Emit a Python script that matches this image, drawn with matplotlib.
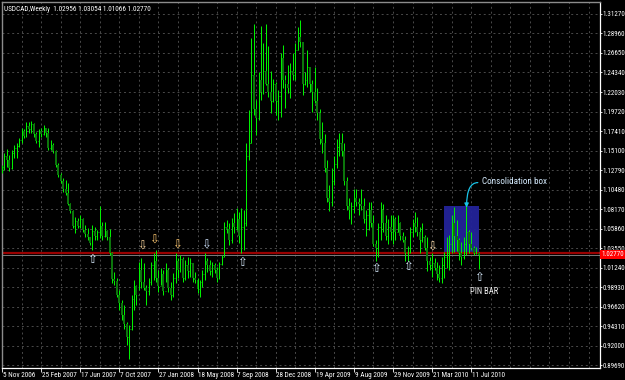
import os
import matplotlib
matplotlib.use("Agg")
import matplotlib.pyplot as plt
from matplotlib import font_manager
from matplotlib.font_manager import FontProperties
from matplotlib.patches import Rectangle
import matplotlib.transforms as mtransforms

# ---------------- data ----------------
symbol = "USDCAD,Weekly"
header_ohlc = "1.02956 1.03054 1.01066 1.02770"

opens = [1.1260, 1.1320, 1.1450, 1.1400, 1.1300, 1.1480, 1.1540, 1.1560, 1.1630, 1.1740,
         1.1680, 1.1800, 1.1760, 1.1820, 1.1700, 1.1620, 1.1740, 1.1700, 1.1780, 1.1720,
         1.1540, 1.1580, 1.1500, 1.1340, 1.1220, 1.1150, 1.1060, 1.1010, 1.0880, 1.0790,
         1.0620, 1.0680, 1.0620, 1.0700, 1.0570, 1.0520, 1.0480, 1.0420, 1.0560, 1.0500,
         1.0540, 1.0620, 1.0500, 1.0560, 1.0480, 1.0300, 0.9990, 0.9960, 0.9800, 0.9700,
         0.9560, 0.9450, 0.9300, 0.9400, 0.9750, 0.9900, 0.9800, 1.0100, 0.9950, 0.9880,
         0.9850, 0.9950, 1.0150, 1.0200, 1.0000, 0.9900, 1.0050, 0.9850, 1.0100, 0.9880,
         0.9800, 1.0000, 1.0200, 1.0100, 1.0220, 1.0000, 1.0150, 1.0080, 1.0180, 1.0000,
         0.9980, 0.9870, 0.9950, 1.0050, 1.0200, 1.0150, 1.0080, 1.0150, 1.0100, 1.0000,
         1.0160, 1.0250, 1.0600, 1.0580, 1.0450, 1.0650, 1.0600, 1.0700, 1.0500, 1.0600,
         1.0650, 1.1450, 1.1600, 1.2400, 1.2000, 1.1900, 1.2350, 1.2200, 1.2450, 1.2300,
         1.2200, 1.2100, 1.2300, 1.2100, 1.2150, 1.2600, 1.2350, 1.2300, 1.2250, 1.2450,
         1.2400, 1.2700, 1.2850, 1.2800, 1.2300, 1.2350, 1.2500, 1.2300, 1.2200, 1.2100,
         1.1950, 1.1650, 1.1600, 1.1300, 1.0950, 1.0900, 1.1150, 1.1350, 1.1550, 1.1600,
         1.1500, 1.1150, 1.0850, 1.0800, 1.0850, 1.0950, 1.0900, 1.0880, 1.0850, 1.0700,
         1.0750, 1.0800, 1.0650, 1.0400, 1.0350, 1.0600, 1.0800, 1.0650, 1.0500, 1.0600,
         1.0550, 1.0700, 1.0550, 1.0650, 1.0500, 1.0450, 1.0300, 1.0350, 1.0550, 1.0650,
         1.0600, 1.0550, 1.0450, 1.0480, 1.0350, 1.0200, 1.0150, 1.0180, 1.0120, 1.0050,
         1.0000, 1.0150, 1.0250, 1.0300, 1.0400, 1.0650, 1.0500, 1.0450, 1.0300, 1.0250,
         1.0400, 1.0550, 1.0400, 1.0350, 1.0300, 1.02956]

highs = [1.1338, 1.1480, 1.1528, 1.1457, 1.1516, 1.1575, 1.1599, 1.1658, 1.1777, 1.1760,
         1.1848, 1.1848, 1.1860, 1.1830, 1.1729, 1.1765, 1.1777, 1.1812, 1.1777, 1.1777,
         1.1635, 1.1599, 1.1516, 1.1362, 1.1243, 1.1184, 1.1161, 1.1125, 1.0888, 1.0805,
         1.0723, 1.0711, 1.0746, 1.0710, 1.0628, 1.0592, 1.0486, 1.0628, 1.0604, 1.0568,
         1.0853, 1.0663, 1.0663, 1.0570, 1.0580, 1.0310, 1.0071, 1.0000, 0.9858, 0.9739,
         0.9680, 0.9480, 0.9443, 0.9798, 0.9976, 0.9917, 1.0189, 1.0237, 1.0178, 0.9917,
         1.0000, 1.0189, 1.0296, 1.0331, 1.0095, 1.0118, 1.0095, 1.0178, 1.0118, 0.9953,
         1.0059, 1.0296, 1.0237, 1.0272, 1.0249, 1.0213, 1.0249, 1.0237, 1.0178, 1.0071,
         1.0000, 0.9976, 1.0095, 1.0296, 1.0237, 1.0213, 1.0189, 1.0178, 1.0130, 1.0189,
         1.0272, 1.0663, 1.0687, 1.0651, 1.0711, 1.0770, 1.0829, 1.0782, 1.0829, 1.0805,
         1.1600, 1.1990, 1.2843, 1.3009, 1.2108, 1.2440, 1.2985, 1.2784, 1.3009, 1.2748,
         1.2452, 1.2357, 1.2320, 1.2227, 1.2665, 1.2760, 1.2405, 1.2523, 1.2547, 1.2665,
         1.2784, 1.2973, 1.3056, 1.2784, 1.2440, 1.2701, 1.2488, 1.2345, 1.2499, 1.2251,
         1.2000, 1.1850, 1.1700, 1.1400, 1.1100, 1.1300, 1.1450, 1.1650, 1.1720, 1.1720,
         1.1600, 1.1200, 1.0950, 1.0900, 1.1050, 1.1050, 1.0950, 1.1050, 1.0950, 1.0800,
         1.0900, 1.0900, 1.0750, 1.0450, 1.0650, 1.0900, 1.0880, 1.0750, 1.0700, 1.0750,
         1.0750, 1.0720, 1.0750, 1.0660, 1.0550, 1.0500, 1.0380, 1.0600, 1.0700, 1.0780,
         1.0720, 1.0600, 1.0652, 1.0509, 1.0480, 1.0249, 1.0296, 1.0237, 1.0189, 1.0154,
         1.0249, 1.0308, 1.0486, 1.0509, 1.0746, 1.0841, 1.0687, 1.0474, 1.0427, 1.0486,
         1.0865, 1.0568, 1.0545, 1.0380, 1.0367, 1.03054]

lows = [1.1243, 1.1279, 1.1315, 1.1267, 1.1290, 1.1421, 1.1421, 1.1552, 1.1599, 1.1658,
        1.1670, 1.1718, 1.1718, 1.1670, 1.1599, 1.1552, 1.1670, 1.1694, 1.1670, 1.1516,
        1.1516, 1.1480, 1.1315, 1.1196, 1.1125, 1.1019, 1.0983, 1.0865, 1.0770, 1.0592,
        1.0533, 1.0592, 1.0592, 1.0545, 1.0486, 1.0450, 1.0391, 1.0331, 1.0450, 1.0450,
        1.0474, 1.0450, 1.0486, 1.0450, 1.0272, 0.9941, 0.9917, 0.9775, 0.9621, 0.9500,
        0.9400, 0.9206, 0.9040, 0.9384, 0.9621, 0.9680, 0.9858, 0.9882, 0.9858, 0.9680,
        0.9798, 0.9917, 0.9976, 0.9953, 0.9834, 0.9917, 0.9798, 0.9953, 0.9834, 0.9739,
        0.9775, 0.9941, 1.0000, 1.0071, 0.9953, 0.9976, 1.0000, 1.0012, 0.9953, 0.9941,
        0.9822, 0.9775, 0.9893, 0.9976, 1.0071, 1.0035, 1.0012, 1.0059, 0.9953, 0.9990,
        1.0150, 1.0249, 1.0533, 1.0391, 1.0415, 1.0533, 1.0568, 1.0415, 1.0296, 1.0331,
        1.0620, 1.1398, 1.1600, 1.1931, 1.1694, 1.1871, 1.2108, 1.2180, 1.2286, 1.2144,
        1.1954, 1.2090, 1.1931, 1.1871, 1.1907, 1.2251, 1.2014, 1.2191, 1.2132, 1.2345,
        1.2345, 1.2701, 1.2736, 1.2168, 1.2286, 1.2263, 1.2203, 1.1966, 1.2073, 1.1871,
        1.1585, 1.1480, 1.1250, 1.0900, 1.0790, 1.0850, 1.1100, 1.1300, 1.1450, 1.1450,
        1.1100, 1.0800, 1.0700, 1.0640, 1.0770, 1.0850, 1.0750, 1.0800, 1.0650, 1.0500,
        1.0570, 1.0600, 1.0380, 1.0205, 1.0250, 1.0450, 1.0550, 1.0450, 1.0400, 1.0450,
        1.0400, 1.0450, 1.0550, 1.0450, 1.0430, 1.0205, 1.0200, 1.0300, 1.0480, 1.0550,
        1.0500, 1.0300, 1.0427, 1.0331, 1.0080, 1.0095, 1.0012, 1.0095, 0.9976, 0.9953,
        0.9941, 1.0000, 1.0118, 1.0095, 1.0296, 1.0308, 1.0320, 1.0213, 1.0154, 1.0230,
        1.0272, 1.0296, 1.0331, 1.0272, 1.0280, 1.01066]

closes = [1.1320, 1.1450, 1.1400, 1.1300, 1.1480, 1.1540, 1.1560, 1.1630, 1.1740, 1.1680,
          1.1800, 1.1760, 1.1820, 1.1700, 1.1620, 1.1740, 1.1700, 1.1780, 1.1720, 1.1540,
          1.1580, 1.1500, 1.1340, 1.1220, 1.1150, 1.1060, 1.1010, 1.0880, 1.0790, 1.0620,
          1.0680, 1.0620, 1.0700, 1.0570, 1.0520, 1.0480, 1.0420, 1.0560, 1.0500, 1.0540,
          1.0620, 1.0500, 1.0560, 1.0480, 1.0300, 0.9990, 0.9960, 0.9800, 0.9700, 0.9560,
          0.9450, 0.9300, 0.9400, 0.9750, 0.9900, 0.9800, 1.0100, 0.9950, 0.9880, 0.9850,
          0.9950, 1.0150, 1.0200, 1.0000, 0.9900, 1.0050, 0.9850, 1.0100, 0.9880, 0.9800,
          1.0000, 1.0200, 1.0100, 1.0220, 1.0000, 1.0150, 1.0080, 1.0180, 1.0000, 0.9980,
          0.9870, 0.9950, 1.0050, 1.0200, 1.0150, 1.0080, 1.0150, 1.0100, 1.0000, 1.0160,
          1.0250, 1.0600, 1.0580, 1.0450, 1.0650, 1.0600, 1.0700, 1.0500, 1.0600, 1.0650,
          1.1450, 1.1600, 1.2400, 1.2000, 1.1900, 1.2350, 1.2200, 1.2450, 1.2300, 1.2200,
          1.2100, 1.2300, 1.2100, 1.2150, 1.2600, 1.2350, 1.2300, 1.2250, 1.2450, 1.2400,
          1.2700, 1.2850, 1.2800, 1.2300, 1.2350, 1.2500, 1.2300, 1.2200, 1.2100, 1.1950,
          1.1650, 1.1600, 1.1300, 1.0950, 1.0900, 1.1150, 1.1350, 1.1550, 1.1600, 1.1500,
          1.1150, 1.0850, 1.0800, 1.0850, 1.0950, 1.0900, 1.0880, 1.0850, 1.0700, 1.0750,
          1.0800, 1.0650, 1.0400, 1.0350, 1.0600, 1.0800, 1.0650, 1.0500, 1.0600, 1.0550,
          1.0700, 1.0550, 1.0650, 1.0500, 1.0450, 1.0300, 1.0350, 1.0550, 1.0650, 1.0600,
          1.0550, 1.0450, 1.0480, 1.0350, 1.0200, 1.0150, 1.0180, 1.0120, 1.0050, 1.0000,
          1.0150, 1.0250, 1.0300, 1.0400, 1.0650, 1.0500, 1.0450, 1.0300, 1.0250, 1.0400,
          1.0550, 1.0400, 1.0350, 1.0300, 1.02956, 1.02770]

# weeks since 5 Nov 2006 for each date label
date_label_weeks = [0, 16, 32, 48, 64, 80, 96, 112, 128, 144, 160, 176, 192]
date_labels = ["5 Nov 2006", "25 Feb 2007", "17 Jun 2007", "7 Oct 2007", "27 Jan 2008",
               "18 May 2008", "7 Sep 2008", "28 Dec 2008", "19 Apr 2009", "9 Aug 2009",
               "29 Nov 2009", "21 Mar 2010", "11 Jul 2010"]
price_ticks = [1.31270, 1.28960, 1.26650, 1.24340, 1.22030, 1.19720, 1.17410, 1.15100,
               1.12790, 1.10480, 1.08170, 1.05860, 1.03550, 1.01240, 0.98930, 0.96620,
               0.94310, 0.92000, 0.89690]
price_tick_labels = ["1.31270", "1.28960", "1.26650", "1.24340", "1.22030", "1.19720",
                     "1.17410", "1.15100", "1.12790", "1.10480", "1.08170", "1.05860",
                     "1.03550", "1.01240", "0.98930", "0.96620", "0.94310", "0.92000",
                     "0.89690"]
support_level = 1.0300
bid_price = 1.02770
bid_label = "1.02770"

up_arrow_weeks = [37, 98, 153, 166, 195.2]
up_arrow_prices = [1.0220, 1.0185, 1.0112, 1.0136, 1.0008]
down_arrow_weeks = [57.4, 62.3, 71.7, 83.6, 176]
down_arrow_prices = [1.0375, 1.0446, 1.0387, 1.0387, 1.0363]
down_arrow_colors = ["#ffd9a0", "#ffc870", "#ffc870", "#d0e4ff", "#ffe0b0"]

box_weeks = [180.9, 195.3]
box_prices = [1.0296, 1.0853]
box_label = "Consolidation box"
pin_label = "PIN BAR"

# ---------------- fonts ----------------
def pick_small_font():
    cands = []
    for f in font_manager.fontManager.ttflist:
        base = os.path.basename(f.fname)
        low = base.lower()
        if any(k in low for k in ("bold", "italic", "oblique", "light", "thin", "medium", "black")):
            continue
        if f.name == "Liberation Sans Narrow":
            cands.append((0, f.fname, 5.0))
        elif f.name == "Roboto Condensed" or ("roboto" in low and "condensed" in low):
            cands.append((1, f.fname, 5.0))
        elif f.name == "DejaVu Sans" and "condensed" in low:
            cands.append((2, f.fname, 4.7))
    if cands:
        cands.sort()
        return FontProperties(fname=cands[0][1]), cands[0][2]
    return FontProperties(family="Liberation Sans"), 4.4

small_fp, small_size = pick_small_font()

def sfp(size=None):
    fp = small_fp.copy()
    fp.set_size(small_size if size is None else size)
    return fp

# ---------------- figure ----------------
W, H = 625, 380
fig = plt.figure(figsize=(W / 100, H / 100), dpi=100, facecolor="black")
ax = fig.add_axes([2 / W, 12 / H, 598 / W, 366 / H], facecolor="black")

xmin, xmax = 0.12, 244.7
ymin, ymax = 0.8934, 1.3269
ax.set_xlim(xmin, xmax)
ax.set_ylim(ymin, ymax)

grid_kw = dict(color="#4a4a4a", lw=0.7, ls=(0, (2, 3)), zorder=0)
for p in price_ticks:
    ax.axhline(p, **grid_kw)
for w in range(0, int(xmax) + 1, 8):
    ax.axvline(w, **grid_kw)

# consolidation box
ax.add_patch(Rectangle((box_weeks[0], box_prices[0]), box_weeks[1] - box_weeks[0],
                       box_prices[1] - box_prices[0], facecolor="#23239a",
                       edgecolor="none", alpha=0.95, zorder=1))

# support (red) and bid (grey) lines
ax.axhline(support_level, color="#990000", lw=1.6, zorder=2)
ax.axhline(bid_price, color="#7a7a7a", lw=0.7, zorder=2)

# bars
lime = "#00f000"
for i, (o, h, l, c) in enumerate(zip(opens, highs, lows, closes)):
    ax.vlines(i, l, h, color=lime, lw=0.72, zorder=3)
    if c < o:
        ax.add_patch(Rectangle((i - 0.4, c), 0.8, o - c, facecolor="#0c760c",
                               edgecolor="none", zorder=4))
    else:
        ax.hlines(o, i - 0.35, i, color=lime, lw=0.5, zorder=3)
        ax.hlines(c, i, i + 0.35, color=lime, lw=0.5, zorder=3)

# arrows
for w, p in zip(up_arrow_weeks, up_arrow_prices):
    ax.text(w, p, "\u21e7", color="#d8ecff", fontsize=8.5, ha="center", va="center",
            family="DejaVu Sans", zorder=6)
for w, p, col in zip(down_arrow_weeks, down_arrow_prices, down_arrow_colors):
    ax.text(w, p, "\u21e9", color=col, fontsize=8.5, ha="center", va="center",
            family="DejaVu Sans", zorder=6)

# annotation: consolidation box
ax.annotate("", xy=(box_weeks[0] + 9.2, box_prices[1] - 0.002),
            xytext=(box_weeks[0] + 13.8, 1.1130),
            arrowprops=dict(arrowstyle="-|>", color="#19c3e6", lw=0.9,
                            mutation_scale=6, shrinkA=0, shrinkB=0,
                            connectionstyle="angle3,angleA=180,angleB=90"), zorder=7)
ax.text(box_weeks[0] + 15.6, 1.1145, box_label, color="#d6ecff",
        fontproperties=sfp(small_size + 1.6), ha="left", va="center", zorder=7)
ax.text(box_weeks[0] + 10.6, 0.9846, pin_label, color="#f0f0f0",
        fontproperties=sfp(small_size + 1.2), ha="left", va="center", zorder=7)

# spines
for s in ["left", "top"]:
    ax.spines[s].set_color("#8c8c8c")
    ax.spines[s].set_linewidth(1.0)
for s in ["right", "bottom"]:
    ax.spines[s].set_color("white")
    ax.spines[s].set_linewidth(0.9)

# price axis
ax.yaxis.tick_right()
ax.set_yticks(price_ticks)
ax.set_yticklabels(price_tick_labels)
ax.tick_params(axis="y", colors="white", labelcolor="white", length=1.5, width=0.6,
               pad=0.4, direction="out")
for lab in ax.get_yticklabels():
    lab.set_fontproperties(sfp())

# date axis: tick marks + left-aligned labels
ax.set_xticks(date_label_weeks)
ax.set_xticklabels([])
ax.tick_params(axis="x", colors="white", length=3, width=0.6, direction="out")
trans = mtransforms.blended_transform_factory(ax.transData, ax.transAxes)
for w, lab in zip(date_label_weeks, date_labels):
    ax.text(w + 0.3, -0.012, lab, transform=trans, color="white",
            fontproperties=sfp(small_size + 0.2), ha="left", va="top", clip_on=False)

# bid price label box on price axis
ax.text(1.0022, bid_price, bid_label, transform=mtransforms.blended_transform_factory(
            ax.transAxes, ax.transData), color="white", fontproperties=sfp(),
        ha="left", va="center", clip_on=False, zorder=10,
        bbox=dict(boxstyle="square,pad=0.12", facecolor="#ff0000", edgecolor="none"))

# header
ax.text(0.004, 0.988, symbol + "  " + header_ohlc, transform=ax.transAxes,
        color="white", fontproperties=sfp(small_size + 0.2), ha="left", va="top", zorder=10)

fig.savefig("out.png", dpi=100, facecolor="black")
